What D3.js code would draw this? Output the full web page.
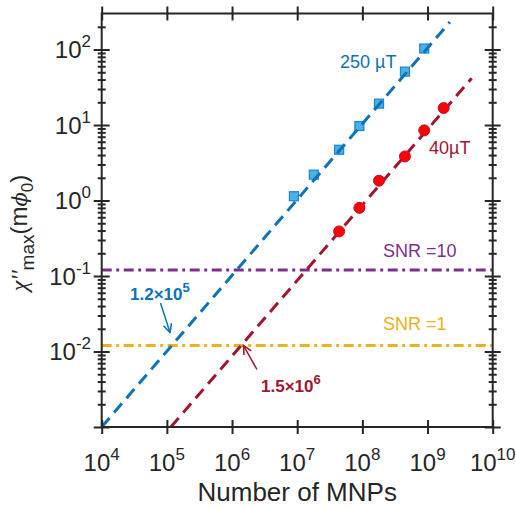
<!DOCTYPE html>
<html><head><meta charset="utf-8">
<script src="https://cdn.jsdelivr.net/npm/d3@7/dist/d3.min.js"></script>
<style>body{margin:0;background:#fff}</style>
</head><body>
<svg id="c" width="516" height="509"></svg>
<script>
// ---------- data ----------
const xDomain = [1e4, 1e10];
const yDomain = [1e-3, 300];
const xTickValues = [1e4, 1e5, 1e6, 1e7, 1e8, 1e9, 1e10];
const xTickExps = ["4", "5", "6", "7", "8", "9", "10"];
const yTickValues = [1e-3, 1e-2, 1e-1, 1, 10, 100];
const yTickLabels = [null, "-2", "-1", "0", "1", "2"];

const blueN   = [8.9e6, 1.8e7, 4.4e7, 9e7, 1.8e8, 4.5e8, 8.9e8];
const blueChi = [1.14, 2.2, 4.7, 9.7, 19.2, 51, 103];
const redN    = [4.4e7, 9e7, 1.8e8, 4.5e8, 8.9e8, 1.77e9];
const redChi  = [0.39, 0.80, 1.83, 3.84, 8.5, 16.8];

const blueFitN   = [1e4, 2.2e9];
const blueFitChi = [1e-3, 231];
const redFitN    = [1.15e5, 4.75e9];
const redFitChi  = [1e-3, 41.6];

const snrValues = [0.12, 0.012];
const snrLabels = ["SNR =10", "SNR =1"];

const threshBlue = {n: 1.2e5, label: "1.2", exp: "5"};
const threshRed  = {n: 1.5e6, label: "1.5", exp: "6"};

// ---------- layout ----------
const C = {blue: "#0b72bd", blueFill: "#4bb0e6", blueEdge: "#1b86cf",
           red: "#a2142f", redFill: "#ff0000", redEdge: "#c8102e",
           purple: "#7e2f8e", orange: "#edb120", axis: "#262626"};
const L = 101.7, R = 492.7, T = 13.5, B = 427;
const svg = d3.select("#c");
const x = d3.scaleLog().domain(xDomain).range([L, R]);
const y = d3.scaleLog().domain(yDomain).range([B, T]);
const font = "'Liberation Sans', Arial, sans-serif";

svg.append("defs").append("clipPath").attr("id", "clip")
  .append("rect").attr("x", L).attr("y", T).attr("width", R - L).attr("height", B - T);

const plot = svg.append("g").attr("clip-path", "url(#clip)");

// SNR lines
plot.selectAll("line.snr").data(snrValues).join("line")
  .attr("x1", L).attr("x2", R)
  .attr("y1", d => y(d)).attr("y2", d => y(d))
  .attr("stroke", (d, i) => i === 0 ? C.purple : C.orange)
  .attr("stroke-width", 3).attr("stroke-dasharray", "10,4.5,3,4.5");

const line = d3.line().x(d => x(d[0])).y(d => y(d[1]));

// blue markers then fit line
plot.selectAll("rect.bsq").data(d3.zip(blueN, blueChi)).join("rect")
  .attr("x", d => x(d[0]) - 4.5).attr("y", d => y(d[1]) - 4.5)
  .attr("width", 9).attr("height", 9)
  .attr("fill", C.blueFill).attr("stroke", C.blueEdge).attr("stroke-width", 1.2);
plot.append("path").datum(d3.zip(blueFitN, blueFitChi))
  .attr("d", line).attr("fill", "none").attr("stroke", C.blue)
  .attr("stroke-width", 3).attr("stroke-dasharray", "12,7");

// red line then markers
plot.append("path").datum(d3.zip(redFitN, redFitChi))
  .attr("d", line).attr("fill", "none").attr("stroke", C.red)
  .attr("stroke-width", 3).attr("stroke-dasharray", "12,7");
plot.selectAll("circle.rc").data(d3.zip(redN, redChi)).join("circle")
  .attr("cx", d => x(d[0])).attr("cy", d => y(d[1])).attr("r", 5.5)
  .attr("fill", C.redFill).attr("stroke", C.redEdge).attr("stroke-width", 1);

// ---------- axes ----------
const yMinor = [];
for (let e = -3; e <= 2; e++) for (let m = 2; m <= 9; m++) {
  const v = m * Math.pow(10, e);
  if (v < yDomain[1]) yMinor.push(v);
}
const ax = svg.append("g");
function drawAxis(gen, tr) {
  const g = ax.append("g").attr("transform", tr).call(gen);
  g.selectAll("text").remove();
  g.select(".domain").remove();
  g.selectAll("line").attr("stroke", C.axis).attr("stroke-width", 2);
  return g;
}
// x major ticks, bottom & top, both directions
[[B, d3.axisBottom], [B, d3.axisTop], [T, d3.axisBottom], [T, d3.axisTop]].forEach(([p, f]) => {
  drawAxis(f(x).tickValues(xTickValues).tickSize(7).tickSizeOuter(0), `translate(0,${p})`);
});
// y major + minor, left & right, both directions
[[L, d3.axisLeft], [L, d3.axisRight], [R, d3.axisLeft], [R, d3.axisRight]].forEach(([p, f]) => {
  drawAxis(f(y).tickValues(yTickValues).tickSize(8).tickSizeOuter(0), `translate(${p},0)`);
  drawAxis(f(y).tickValues(yMinor).tickSize(4).tickSizeOuter(0), `translate(${p},0)`);
});
// frame
ax.append("rect").attr("x", L).attr("y", T).attr("width", R - L).attr("height", B - T)
  .attr("fill", "none").attr("stroke", C.axis).attr("stroke-width", 2);

// tick labels
const xl = svg.append("g").attr("font-family", font).attr("fill", C.axis);
xTickValues.forEach((v, i) => {
  const t = xl.append("text").attr("x", x(v)).attr("y", 471).attr("text-anchor", "middle")
    .attr("font-size", 24);
  t.append("tspan").text("10");
  t.append("tspan").attr("dy", -11).attr("font-size", 17).text(xTickExps[i]);
});
yTickValues.forEach((v, i) => {
  if (!yTickLabels[i]) return;
  const t = xl.append("text").attr("x", 91).attr("y", y(v) + 8.5).attr("text-anchor", "end")
    .attr("font-size", 24);
  t.append("tspan").text("10");
  t.append("tspan").attr("dy", -11).attr("font-size", 17).text(yTickLabels[i]);
});

// axis titles
svg.append("text").attr("x", (L + R) / 2).attr("y", 501).attr("text-anchor", "middle")
  .attr("font-family", font).attr("font-size", 26).attr("fill", C.axis).text("Number of MNPs");

const yl = svg.append("text").attr("transform", "translate(27,233) rotate(-90)")
  .attr("text-anchor", "middle").attr("font-family", font).attr("font-size", 24).attr("fill", C.axis);
yl.append("tspan").attr("font-family", "'Liberation Serif', serif").attr("font-style", "italic").text("χ''");
yl.append("tspan").attr("dy", 7).attr("font-size", 19).text("max");
yl.append("tspan").attr("dy", -7).text("(m");
yl.append("tspan").attr("font-family", "'DejaVu Serif', serif").attr("font-style", "italic").attr("font-size", 21).text("ϕ");
yl.append("tspan").attr("dy", 6).attr("font-size", 17).text("0");
yl.append("tspan").attr("dy", -6).text(")");

// series labels
const lab = svg.append("g").attr("font-family", font).attr("font-size", 18);
lab.append("text").attr("x", 340).attr("y", 68).attr("fill", C.blue).text("250 µT");
lab.append("text").attr("x", 429).attr("y", 154).attr("fill", C.red).text("40µT");
lab.append("text").attr("x", 383).attr("y", 256.5).attr("fill", C.purple).text(snrLabels[0]);
lab.append("text").attr("x", 383).attr("y", 330).attr("fill", C.orange).text(snrLabels[1]);

// threshold annotations
const defs = svg.select("defs");
[["ab", C.blue], ["ar", C.red]].forEach(([id, c]) => {
  defs.append("marker").attr("id", id).attr("viewBox", "0 0 10 10").attr("refX", 9).attr("refY", 5)
    .attr("markerWidth", 7).attr("markerHeight", 7).attr("orient", "auto-start-reverse")
    .append("path").attr("d", "M1,1 L9,5 L1,9").attr("fill", "none").attr("stroke", c).attr("stroke-width", 1.5);
});
function annot(th, color, mk, tx, ty, ax0, ay0) {
  const t = svg.append("text").attr("x", tx).attr("y", ty).attr("font-family", font)
    .attr("font-weight", "bold").attr("font-size", 17).attr("fill", color);
  t.append("tspan").text(th.label + "×10");
  t.append("tspan").attr("dy", -8).attr("font-size", 13).text(th.exp);
  svg.append("line").attr("x1", ax0).attr("y1", ay0)
    .attr("x2", x(th.n) + (color === C.blue ? -2 : 0)).attr("y2", y(snrValues[1]) + (color === C.blue ? -13 : 0))
    .attr("stroke", color).attr("stroke-width", 1.5).attr("marker-end", `url(#${mk})`);
}
annot(threshBlue, C.blue, "ab", 130, 300, 160.5, 303);
annot(threshRed, C.red, "ar", 261, 391.5, 257, 369.5);
</script>
</body></html>
